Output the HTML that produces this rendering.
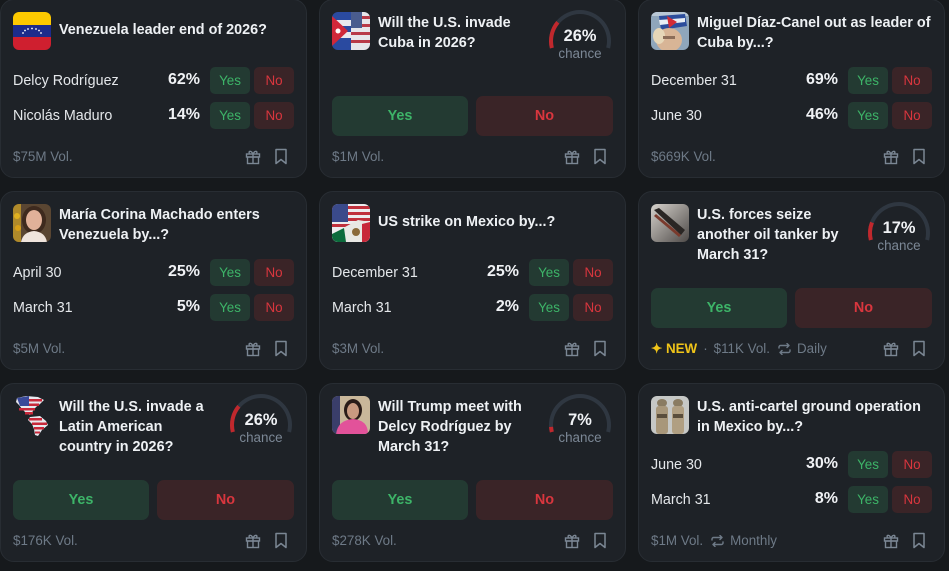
<!DOCTYPE html>
<html><head><meta charset="utf-8">
<style>
*{box-sizing:border-box;margin:0;padding:0}
html,body{width:949px;height:571px;overflow:hidden;background:#16191c;font-family:"Liberation Sans",Arial,sans-serif}
.c{position:absolute;width:307px;height:179px;background:#1e2227;border:1px solid #282d33;border-radius:14px}
.c>*{position:absolute}
.ic{left:12px;top:12px;width:38px;height:38px;border-radius:6px;overflow:hidden}
.ic svg{display:block}
.t{left:58px;top:13px;font-size:14.4px;font-weight:bold;line-height:20px;color:#eef1f4;white-space:nowrap}
.t1{top:20px}
.lb{left:12px;font-size:14.3px;line-height:20px;color:#e4e7ea;white-space:nowrap}
.pc{left:139px;width:60px;text-align:right;font-size:16px;font-weight:bold;line-height:20px;color:#f0f2f5}
.sy,.sn{width:40px;height:27px;border-radius:5px;font-size:13.4px;line-height:27px;text-align:center}
.sy{left:209px;background:#233a32;color:#3db468}
.sn{left:253px;background:#3a2427;color:#d9363e}
.by,.bn{top:96px;height:40px;border-radius:7px;font-size:14.4px;font-weight:bold;line-height:40px;text-align:center}
.by{left:12px;width:136px;background:#233a32;color:#3db468}
.bn{left:156px;width:137px;background:#3a2427;color:#d9363e}
.ft{left:12px;top:147px;font-size:13.4px;line-height:20px;color:#6e7a87;white-space:nowrap;display:flex;align-items:center}
.gift{left:244px;top:149px}
.bm{left:273px;top:148px}
.gs{left:225px;top:0}
.gp{left:225px;width:70px;top:26px;text-align:center;font-size:16.4px;font-weight:bold;line-height:20px;color:#f0f2f5}
.gc{left:225px;width:70px;top:45px;text-align:center;font-size:13.4px;line-height:18px;color:#7c8896}
</style></head><body>

<!-- Card 1 -->
<div class="c" style="left:0;top:-1px">
  <div class="ic"><svg width="38" height="38"><rect width="38" height="13" fill="#fdc900"/><rect y="13" width="38" height="12" fill="#1c2c8c"/><rect y="25" width="38" height="13" fill="#cf1f2f"/><g fill="#fff"><circle cx="10" cy="21" r=".9"/><circle cx="12" cy="18.5" r=".9"/><circle cx="15" cy="17" r=".9"/><circle cx="19" cy="16.5" r=".9"/><circle cx="23" cy="17" r=".9"/><circle cx="26" cy="18.5" r=".9"/><circle cx="28" cy="21" r=".9"/></g></svg></div>
  <div class="t t1">Venezuela leader end of 2026?</div>
  <div class="lb" style="top:71px">Delcy Rodríguez</div><div class="pc" style="top:70px">62%</div>
  <div class="sy" style="top:67px">Yes</div><div class="sn" style="top:67px">No</div>
  <div class="lb" style="top:106px">Nicolás Maduro</div><div class="pc" style="top:105px">14%</div>
  <div class="sy" style="top:102px">Yes</div><div class="sn" style="top:102px">No</div>
  <div class="ft">$75M Vol.</div>
  <svg class="gift" width="16" height="16" viewBox="0 0 16 16" fill="none" stroke="#7b8794" stroke-width="1.4"><rect x="1.5" y="5" width="13" height="3"/><rect x="2.5" y="8" width="11" height="6.5"/><path d="M8 5v9.5M8 5C6 1 3 2 4.5 4.5M8 5c2-4 5-3 3.5-.5"/></svg>
  <svg class="bm" width="14" height="17" viewBox="0 0 14 17" fill="none" stroke="#7b8794" stroke-width="1.5"><path d="M2 1.5h10v14l-5-4-5 4z" stroke-linejoin="round"/></svg>
</div>

<!-- Card 2 -->
<div class="c" style="left:319px;top:-1px">
  <div class="ic"><svg width="38" height="38"><rect width="19" height="38" fill="#2a4aa0"/><rect y="8" width="19" height="6" fill="#e8e8ee"/><rect y="20" width="19" height="6" fill="#e8e8ee"/><polygon points="0,4 16,19 0,34" fill="#d0283a"/><circle cx="6" cy="19" r="2.5" fill="#fff"/><rect x="19" width="19" height="38" fill="#e6e6ea"/><rect x="19" y="4" width="19" height="3" fill="#b83a48"/><rect x="19" y="12" width="19" height="3" fill="#b83a48"/><rect x="19" y="20" width="19" height="3" fill="#b83a48"/><rect x="19" y="28" width="19" height="3" fill="#b83a48"/><rect x="19" y="0" width="11" height="16" fill="#4a5c8e"/></svg></div>
  <div class="t">Will the U.S. invade<br>Cuba in 2026?</div>
  <svg class="gs" width="70" height="56"><path d="M6.86 48.02A29 29 0 1 1 63.14 48.02" fill="none" stroke="#2f3741" stroke-width="4"/><path d="M6.86 48.02A29 29 0 1 1 63.14 48.02" pathLength="100" stroke-dasharray="26 200" fill="none" stroke="#c0282d" stroke-width="4"/></svg>
  <div class="gp">26%</div><div class="gc">chance</div>
  <div class="by">Yes</div><div class="bn">No</div>
  <div class="ft">$1M Vol.</div>
  <svg class="gift" width="16" height="16" viewBox="0 0 16 16" fill="none" stroke="#7b8794" stroke-width="1.4"><rect x="1.5" y="5" width="13" height="3"/><rect x="2.5" y="8" width="11" height="6.5"/><path d="M8 5v9.5M8 5C6 1 3 2 4.5 4.5M8 5c2-4 5-3 3.5-.5"/></svg>
  <svg class="bm" width="14" height="17" viewBox="0 0 14 17" fill="none" stroke="#7b8794" stroke-width="1.5"><path d="M2 1.5h10v14l-5-4-5 4z" stroke-linejoin="round"/></svg>
</div>

<!-- Card 3 -->
<div class="c" style="left:638px;top:-1px">
  <div class="ic"><svg width="38" height="38"><rect width="38" height="38" fill="#8fa6bb"/><rect y="0" width="38" height="4" fill="#b9c8d6"/><polygon points="8,4 34,2 36,14 10,18" fill="#2c4d9c"/><polygon points="8,8 34,6 34,10 9,13" fill="#e8eef4"/><polygon points="16,4 26,10 18,16" fill="#d22b36"/><ellipse cx="18" cy="28" rx="13" ry="12" fill="#d8b596"/><ellipse cx="8" cy="24" rx="6" ry="8" fill="#e6d7b8"/><rect x="12" y="24" width="12" height="3" fill="#8c6d58"/></svg></div>
  <div class="t">Miguel Díaz-Canel out as leader of<br>Cuba by...?</div>
  <div class="lb" style="top:71px">December 31</div><div class="pc" style="top:70px">69%</div>
  <div class="sy" style="top:67px">Yes</div><div class="sn" style="top:67px">No</div>
  <div class="lb" style="top:106px">June 30</div><div class="pc" style="top:105px">46%</div>
  <div class="sy" style="top:102px">Yes</div><div class="sn" style="top:102px">No</div>
  <div class="ft">$669K Vol.</div>
  <svg class="gift" width="16" height="16" viewBox="0 0 16 16" fill="none" stroke="#7b8794" stroke-width="1.4"><rect x="1.5" y="5" width="13" height="3"/><rect x="2.5" y="8" width="11" height="6.5"/><path d="M8 5v9.5M8 5C6 1 3 2 4.5 4.5M8 5c2-4 5-3 3.5-.5"/></svg>
  <svg class="bm" width="14" height="17" viewBox="0 0 14 17" fill="none" stroke="#7b8794" stroke-width="1.5"><path d="M2 1.5h10v14l-5-4-5 4z" stroke-linejoin="round"/></svg>
</div>

<!-- Card 4 -->
<div class="c" style="left:0;top:191px">
  <div class="ic"><svg width="38" height="38"><rect width="38" height="38" fill="#5a4632"/><rect width="8" height="38" fill="#b08a2a"/><circle cx="4" cy="12" r="3" fill="#e0b020"/><circle cx="5" cy="24" r="3" fill="#d8a018"/><ellipse cx="21" cy="16" rx="12" ry="14" fill="#3e2a1e"/><ellipse cx="21" cy="16" rx="8" ry="10" fill="#e1b199"/><path d="M8 38 Q10 28 21 27 Q32 28 34 38z" fill="#efe4dc"/></svg></div>
  <div class="t">María Corina Machado enters<br>Venezuela by...?</div>
  <div class="lb" style="top:71px">April 30</div><div class="pc" style="top:70px">25%</div>
  <div class="sy" style="top:67px">Yes</div><div class="sn" style="top:67px">No</div>
  <div class="lb" style="top:106px">March 31</div><div class="pc" style="top:105px">5%</div>
  <div class="sy" style="top:102px">Yes</div><div class="sn" style="top:102px">No</div>
  <div class="ft">$5M Vol.</div>
  <svg class="gift" width="16" height="16" viewBox="0 0 16 16" fill="none" stroke="#7b8794" stroke-width="1.4"><rect x="1.5" y="5" width="13" height="3"/><rect x="2.5" y="8" width="11" height="6.5"/><path d="M8 5v9.5M8 5C6 1 3 2 4.5 4.5M8 5c2-4 5-3 3.5-.5"/></svg>
  <svg class="bm" width="14" height="17" viewBox="0 0 14 17" fill="none" stroke="#7b8794" stroke-width="1.5"><path d="M2 1.5h10v14l-5-4-5 4z" stroke-linejoin="round"/></svg>
</div>

<!-- Card 5 -->
<div class="c" style="left:319px;top:191px">
  <div class="ic"><svg width="38" height="38"><rect width="38" height="38" fill="#ececee"/><rect y="2" width="38" height="3" fill="#c0303c"/><rect y="8" width="38" height="3" fill="#c0303c"/><rect y="14" width="38" height="3" fill="#c0303c"/><rect y="20" width="38" height="3" fill="#c0303c"/><rect width="16" height="18" fill="#3a4a8a"/><polygon points="0,38 0,30 26,16 38,18 38,38" fill="#e8e8e4"/><polygon points="0,38 0,30 12,24 14,38" fill="#0c6b3c"/><polygon points="30,20 38,18 38,38 30,38" fill="#c8283a"/><circle cx="24" cy="28" r="4" fill="#8a6a3a"/></svg></div>
  <div class="t t1">US strike on Mexico by...?</div>
  <div class="lb" style="top:71px">December 31</div><div class="pc" style="top:70px">25%</div>
  <div class="sy" style="top:67px">Yes</div><div class="sn" style="top:67px">No</div>
  <div class="lb" style="top:106px">March 31</div><div class="pc" style="top:105px">2%</div>
  <div class="sy" style="top:102px">Yes</div><div class="sn" style="top:102px">No</div>
  <div class="ft">$3M Vol.</div>
  <svg class="gift" width="16" height="16" viewBox="0 0 16 16" fill="none" stroke="#7b8794" stroke-width="1.4"><rect x="1.5" y="5" width="13" height="3"/><rect x="2.5" y="8" width="11" height="6.5"/><path d="M8 5v9.5M8 5C6 1 3 2 4.5 4.5M8 5c2-4 5-3 3.5-.5"/></svg>
  <svg class="bm" width="14" height="17" viewBox="0 0 14 17" fill="none" stroke="#7b8794" stroke-width="1.5"><path d="M2 1.5h10v14l-5-4-5 4z" stroke-linejoin="round"/></svg>
</div>

<!-- Card 6 -->
<div class="c" style="left:638px;top:191px">
  <div class="ic"><svg width="38" height="38"><defs><linearGradient id="tk" x1="0" y1="0" x2="1" y2="1"><stop offset="0" stop-color="#d6d2cc"/><stop offset="1" stop-color="#4e4a48"/></linearGradient></defs><rect width="38" height="38" fill="url(#tk)"/><polygon points="3,6 8,4 34,26 30,31" fill="#2a2624"/><polygon points="5,10 30,31 28,33 3,12" fill="#7a3a2c"/></svg></div>
  <div class="t">U.S. forces seize<br>another oil tanker by<br>March 31?</div>
  <svg class="gs" width="70" height="56"><path d="M6.86 48.02A29 29 0 1 1 63.14 48.02" fill="none" stroke="#2f3741" stroke-width="4"/><path d="M6.86 48.02A29 29 0 1 1 63.14 48.02" pathLength="100" stroke-dasharray="17 200" fill="none" stroke="#c0282d" stroke-width="4"/></svg>
  <div class="gp">17%</div><div class="gc">chance</div>
  <div class="by">Yes</div><div class="bn">No</div>
  <div class="ft"><span style="color:#f0c419;font-weight:bold">✦ NEW</span><span style="margin:0 6px">·</span>$11K Vol.<svg style="margin:0 6px 0 8px" width="13" height="12" viewBox="0 0 13 12" fill="none" stroke="#6e7a87" stroke-width="1.4" stroke-linecap="round" stroke-linejoin="round"><path d="M1 5V4a1.5 1.5 0 0 1 1.5-1.5H11M9 .5l2 2-2 2M12 7v1a1.5 1.5 0 0 1-1.5 1.5H2M4 7.5l-2 2 2 2"/></svg>Daily</div>
  <svg class="gift" width="16" height="16" viewBox="0 0 16 16" fill="none" stroke="#7b8794" stroke-width="1.4"><rect x="1.5" y="5" width="13" height="3"/><rect x="2.5" y="8" width="11" height="6.5"/><path d="M8 5v9.5M8 5C6 1 3 2 4.5 4.5M8 5c2-4 5-3 3.5-.5"/></svg>
  <svg class="bm" width="14" height="17" viewBox="0 0 14 17" fill="none" stroke="#7b8794" stroke-width="1.5"><path d="M2 1.5h10v14l-5-4-5 4z" stroke-linejoin="round"/></svg>
</div>

<!-- Card 7 -->
<div class="c" style="left:0;top:383px">
  <div class="ic" style="overflow:visible;left:13px;top:11px"><svg width="38" height="42" viewBox="0 0 38 42"><polygon points="3,3 12,1 24,2 30,5 26,9 22,12 19,16 16,20 12,18 8,14 5,10 2,7" fill="#e8e8ee"/><polygon points="3,3 15,1 15,11 6,11" fill="#3a4a9a"/><rect x="15" y="4" width="13" height="2.5" fill="#c8283a"/><rect x="5" y="13" width="16" height="2.5" fill="#c8283a"/><rect x="11" y="17" width="8" height="2.5" fill="#c8283a"/><rect x="15" y="8.5" width="10" height="2.5" fill="#c8283a"/><polygon points="16,22 26,21 32,26 34,30 28,35 24,41 21,40 20,34 18,29 14,25" fill="#e8e8ee"/><rect x="15" y="23" width="13" height="2.5" fill="#c8283a"/><rect x="18" y="27.5" width="15" height="2.5" fill="#c8283a"/><rect x="20" y="32" width="10" height="2.5" fill="#c8283a"/><rect x="21" y="36.5" width="5" height="2" fill="#c8283a"/></svg></div>
  <div class="t">Will the U.S. invade a<br>Latin American<br>country in 2026?</div>
  <svg class="gs" width="70" height="56"><path d="M6.86 48.02A29 29 0 1 1 63.14 48.02" fill="none" stroke="#2f3741" stroke-width="4"/><path d="M6.86 48.02A29 29 0 1 1 63.14 48.02" pathLength="100" stroke-dasharray="26 200" fill="none" stroke="#c0282d" stroke-width="4"/></svg>
  <div class="gp">26%</div><div class="gc">chance</div>
  <div class="by">Yes</div><div class="bn">No</div>
  <div class="ft">$176K Vol.</div>
  <svg class="gift" width="16" height="16" viewBox="0 0 16 16" fill="none" stroke="#7b8794" stroke-width="1.4"><rect x="1.5" y="5" width="13" height="3"/><rect x="2.5" y="8" width="11" height="6.5"/><path d="M8 5v9.5M8 5C6 1 3 2 4.5 4.5M8 5c2-4 5-3 3.5-.5"/></svg>
  <svg class="bm" width="14" height="17" viewBox="0 0 14 17" fill="none" stroke="#7b8794" stroke-width="1.5"><path d="M2 1.5h10v14l-5-4-5 4z" stroke-linejoin="round"/></svg>
</div>

<!-- Card 8 -->
<div class="c" style="left:319px;top:383px">
  <div class="ic"><svg width="38" height="38"><rect width="38" height="38" fill="#c9b79a"/><rect width="8" height="38" fill="#3a3e6a"/><ellipse cx="21" cy="14" rx="9" ry="11" fill="#2a1c18"/><ellipse cx="21" cy="15" rx="6" ry="8" fill="#c99a80"/><path d="M4 38 Q6 24 21 23 Q36 24 36 38z" fill="#e2529a"/></svg></div>
  <div class="t">Will Trump meet with<br>Delcy Rodríguez by<br>March 31?</div>
  <svg class="gs" width="70" height="56"><path d="M6.86 48.02A29 29 0 1 1 63.14 48.02" fill="none" stroke="#2f3741" stroke-width="4"/><path d="M6.86 48.02A29 29 0 1 1 63.14 48.02" pathLength="100" stroke-dasharray="5 200" fill="none" stroke="#c0282d" stroke-width="4"/></svg>
  <div class="gp">7%</div><div class="gc">chance</div>
  <div class="by">Yes</div><div class="bn">No</div>
  <div class="ft">$278K Vol.</div>
  <svg class="gift" width="16" height="16" viewBox="0 0 16 16" fill="none" stroke="#7b8794" stroke-width="1.4"><rect x="1.5" y="5" width="13" height="3"/><rect x="2.5" y="8" width="11" height="6.5"/><path d="M8 5v9.5M8 5C6 1 3 2 4.5 4.5M8 5c2-4 5-3 3.5-.5"/></svg>
  <svg class="bm" width="14" height="17" viewBox="0 0 14 17" fill="none" stroke="#7b8794" stroke-width="1.5"><path d="M2 1.5h10v14l-5-4-5 4z" stroke-linejoin="round"/></svg>
</div>

<!-- Card 9 -->
<div class="c" style="left:638px;top:383px">
  <div class="ic"><svg width="38" height="38"><rect width="38" height="38" fill="#c6c8c6"/><ellipse cx="11" cy="7" rx="5" ry="4" fill="#8a7c62"/><rect x="5" y="10" width="12" height="28" rx="3" fill="#a8977a"/><ellipse cx="27" cy="7" rx="5" ry="4" fill="#8a7c62"/><rect x="21" y="10" width="12" height="28" rx="3" fill="#b09f82"/><rect x="6" y="18" width="10" height="4" fill="#5a4e3c"/><rect x="22" y="18" width="10" height="4" fill="#5a4e3c"/></svg></div>
  <div class="t">U.S. anti-cartel ground operation<br>in Mexico by...?</div>
  <div class="lb" style="top:71px">June 30</div><div class="pc" style="top:70px">30%</div>
  <div class="sy" style="top:67px">Yes</div><div class="sn" style="top:67px">No</div>
  <div class="lb" style="top:106px">March 31</div><div class="pc" style="top:105px">8%</div>
  <div class="sy" style="top:102px">Yes</div><div class="sn" style="top:102px">No</div>
  <div class="ft">$1M Vol.<svg style="margin:0 6px 0 8px" width="13" height="12" viewBox="0 0 13 12" fill="none" stroke="#6e7a87" stroke-width="1.4" stroke-linecap="round" stroke-linejoin="round"><path d="M1 5V4a1.5 1.5 0 0 1 1.5-1.5H11M9 .5l2 2-2 2M12 7v1a1.5 1.5 0 0 1-1.5 1.5H2M4 7.5l-2 2 2 2"/></svg>Monthly</div>
  <svg class="gift" width="16" height="16" viewBox="0 0 16 16" fill="none" stroke="#7b8794" stroke-width="1.4"><rect x="1.5" y="5" width="13" height="3"/><rect x="2.5" y="8" width="11" height="6.5"/><path d="M8 5v9.5M8 5C6 1 3 2 4.5 4.5M8 5c2-4 5-3 3.5-.5"/></svg>
  <svg class="bm" width="14" height="17" viewBox="0 0 14 17" fill="none" stroke="#7b8794" stroke-width="1.5"><path d="M2 1.5h10v14l-5-4-5 4z" stroke-linejoin="round"/></svg>
</div>

</body></html>
